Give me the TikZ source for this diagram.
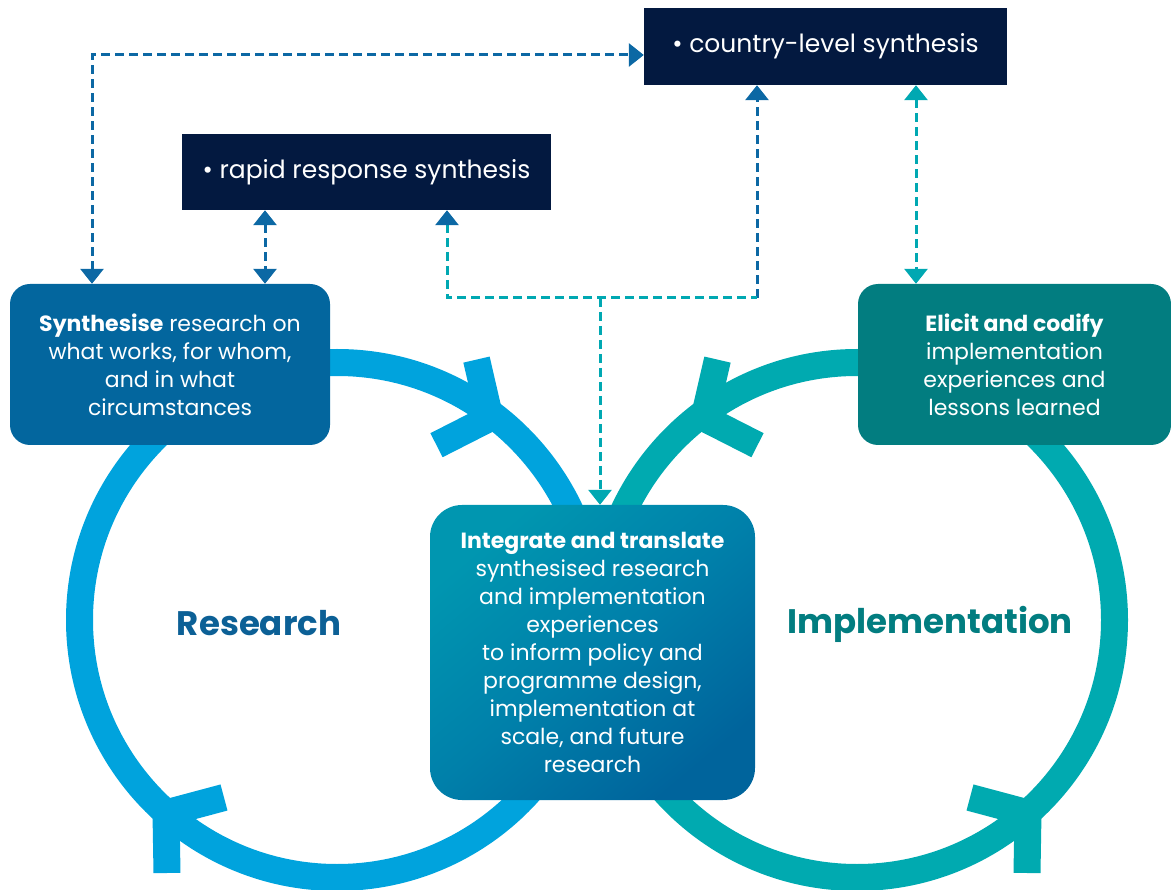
\documentclass[tikz,border=0pt]{standalone}
\usepackage{fontspec}
\setmainfont{Poppins}
\usetikzlibrary{arrows.meta,calc}
\definecolor{ringblue}{RGB}{0,163,221}
\definecolor{ringteal}{RGB}{0,170,176}
\definecolor{synblue}{RGB}{3,102,158}
\definecolor{elteal}{RGB}{2,125,128}
\definecolor{navy}{RGB}{3,25,64}
\definecolor{dashblue}{RGB}{12,104,164}
\definecolor{dashteal}{RGB}{0,168,178}
\definecolor{restext}{RGB}{12,96,150}
\definecolor{imptext}{RGB}{2,125,128}
\definecolor{intA}{RGB}{0,128,170}
\definecolor{intB}{RGB}{0,150,176}
\definecolor{intC}{RGB}{0,100,156}
\tikzset{
  ringL/.style={draw=ringblue, line width=27pt},
  ringR/.style={draw=ringteal, line width=27pt},
  chevL/.style={draw=ringblue, line width=27pt, line join=miter, line cap=butt},
  chevR/.style={draw=ringteal, line width=27pt, line join=miter, line cap=butt},
  roundbox/.style={rounded corners=20pt, text=white, align=center, inner sep=0pt,
    font=\fontsize{22}{28}\selectfont},
  navybox/.style={fill=navy, text=white, inner sep=0pt, font=\fontsize{25}{28}\selectfont},
  dashline/.style={line width=3pt, dash pattern=on 9pt off 5pt},
  bluedash/.style={dashline, draw=dashblue},
  tealdash/.style={dashline, draw=dashteal},
  tipB/.tip={Triangle[width=23pt,length=15pt,color=dashblue]},
  tipT/.tip={Triangle[width=23pt,length=15pt,color=dashteal]},
  biglabel/.style={font=\fontsize{34}{40}\selectfont\bfseries}
}
\begin{document}
\begin{tikzpicture}[x=1pt,y=-1pt]
\useasboundingbox (0,0) rectangle (1171,890);
\clip (0,0) rectangle (1171,890);
% rings
\draw[ringL] (337,620) circle[radius=257.5];
\draw[ringR] (857,620) circle[radius=257.5];
% chevrons
\draw[chevL] (476.5,359.6) -- (490,418) -- (436.5,445.2);
\draw[chevL] (224,797.5) -- (166,813) -- (167,873);
\draw[chevR] (717.5,359.6) -- (704,418) -- (757.5,445.2);
\draw[chevR] (970,797.5) -- (1028,813) -- (1027,873);
% boxes
\node[roundbox, fill=synblue, minimum width=320pt, minimum height=161pt] (syn) at (170,364.5)
  {\textbf{Synthesise} research on\\what works, for whom,\\and in what\\circumstances};
\node[roundbox, fill=elteal, minimum width=313pt, minimum height=161pt] (eli) at (1014.5,364.5)
  {\textbf{Elicit and codify}\\implementation\\experiences and\\lessons learned};
\node[roundbox, rounded corners=32pt, minimum width=325pt, minimum height=295pt,
  top color=intB, bottom color=intC, middle color=intA, shading angle=40] (int) at (592.5,652.5)
  {\textbf{Integrate and translate}\\synthesised research\\and implementation\\experiences\\to inform policy and\\programme design,\\implementation at\\scale, and future\\research};
\node[navybox, minimum width=369pt, minimum height=76pt] (rap) at (366.5,172) {• rapid response synthesis};
\node[navybox, minimum width=363pt, minimum height=77pt] (cty) at (825.5,46.5) {• country-level synthesis};
% labels
\node[biglabel, text=restext] (res) at (259,623) {Research};
\node[biglabel, text=imptext] (imp) at (930,624) {Implementation};
% connector corners
\coordinate (k1) at (92,55);
\coordinate (k2) at (265,250);
\coordinate (k3) at (447,298);
\coordinate (k4) at (600,298);
\coordinate (k5) at (757,298);
\coordinate (k6) at (916,200);
% connectors
\draw[bluedash, {tipB}-{tipB}] (syn.north -| k1) -- (k1) -- (cty.west |- k1);
\draw[bluedash, {tipB}-{tipB}] (rap.south -| k2) -- (syn.north -| k2);
\draw[bluedash, -{tipB}] (k5) -- (cty.south -| k5);
\draw[tealdash, {tipB}-] (rap.south -| k3) -- (k3) -- (k5);
\draw[tealdash, -{tipT}] (k4) -- (int.north -| k4);
\draw[tealdash, {tipT}-{tipT}] (cty.south -| k6) -- (eli.north -| k6);
\end{tikzpicture}
\end{document}
